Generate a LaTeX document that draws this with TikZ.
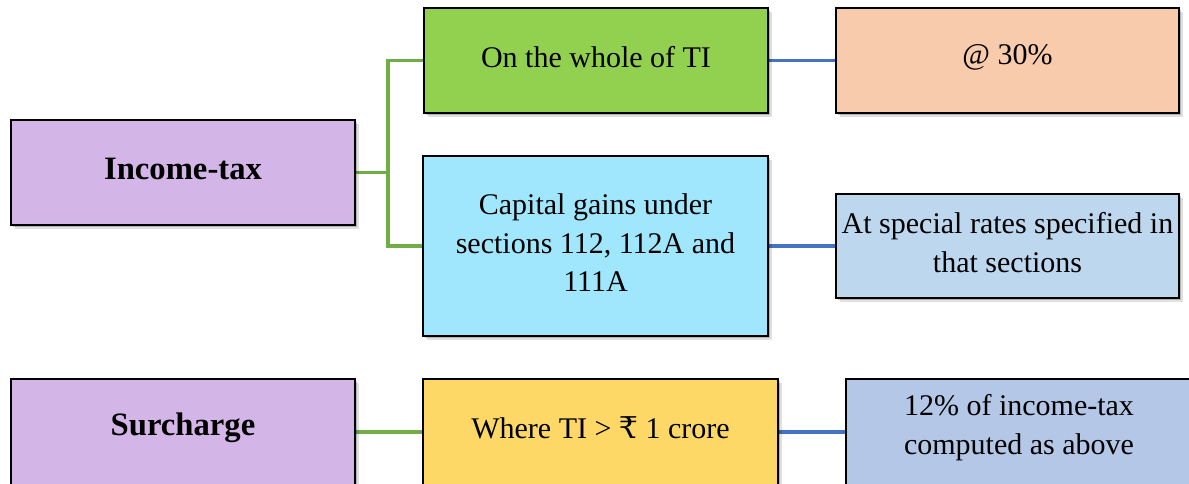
\documentclass[tikz,border=0pt]{standalone}
\usepackage{fontspec}
\setmainfont{Liberation Serif}
\newfontfamily\rupeefont{DejaVu Serif}
\usetikzlibrary{shadows,backgrounds}
\definecolor{cpurple}{HTML}{D3B5E8}
\definecolor{cgreen}{HTML}{92D050}
\definecolor{corange}{HTML}{F8CBAD}
\definecolor{ccyan}{HTML}{A0E6FD}
\definecolor{clblue}{HTML}{BDD7EE}
\definecolor{cyellow}{HTML}{FDD866}
\definecolor{cblue}{HTML}{B4C7E7}
\definecolor{lgreen}{HTML}{70AD47}
\definecolor{lblue}{HTML}{4472C4}
\tikzset{
  box/.style={draw=black, line width=1.5pt, inner sep=0pt,
    general shadow={fill=black, opacity=0.12, shadow xshift=3pt, shadow yshift=-3pt},
    general shadow={fill=black, opacity=0.2, shadow xshift=1.8pt, shadow yshift=-1.8pt}},
  txt/.style={align=center, inner sep=0pt, font=\fontsize{22.5}{29}\selectfont},
  head/.style={inner sep=0pt, font=\fontsize{24.5}{29}\selectfont\bfseries},
  gline/.style={draw=lgreen, line width=2.4pt},
  bline/.style={draw=lblue, line width=2.4pt},
}
\begin{document}
\begin{tikzpicture}[x=0.75pt,y=-0.75pt]
\useasboundingbox (0,0) rectangle (1189,483);
\begin{scope}
\clip (0,0) rectangle (1189,483);
\node[box, fill=cpurple, minimum width=258pt, minimum height=78.75pt] (A) at (183,172.5) {};
\node[head] (At) at ([yshift=2.5pt]A.center) {Income-tax};
\node[box, fill=cgreen, minimum width=258pt, minimum height=78.75pt] (B) at (596,60.5) {};
\node[txt] (Bt) at ([yshift=2.5pt]B.center) {On the whole of TI};
\node[box, fill=corange, minimum width=257.25pt, minimum height=78.75pt] (C) at (1007.5,60.5) {};
\node[txt] (Ct) at ([yshift=2.5pt]C.center) {@ 30\%};
\node[box, fill=ccyan, minimum width=258.75pt, minimum height=135pt] (D) at (595.5,246) {};
\node[txt] (Dt) at ([yshift=2.5pt]D.center) {Capital gains under\\sections 112, 112A and\\111A};
\node[box, fill=clblue, minimum width=257.25pt, minimum height=78pt] (E) at (1007.5,246) {};
\node[txt] (Et) at ([yshift=2.5pt]E.center) {At special rates specified in\\that sections};
\node[box, fill=cpurple, minimum width=258pt, minimum height=79.5pt] (F) at (183,432) {};
\node[head] (Ft) at ([yshift=3.5pt]F.center) {Surcharge};
\node[box, fill=cyellow, minimum width=266.25pt, minimum height=79.5pt] (G) at (600.5,432) {};
\node[txt] (Gt) at ([yshift=3.5pt]G.center) {Where TI > {\rupeefont ₹} 1 crore};
\node[box, fill=cblue, minimum width=259.5pt, minimum height=79.5pt] (H) at (1019,432) {};
\node[txt] (Ht) at ([yshift=3.5pt]H.center) {12\% of income-tax\\computed as above};
\coordinate (j) at (388,172.5);
\end{scope}
\begin{pgfonlayer}{background}
\draw[gline] (A.east) -- (j);
\draw[gline] (B.west) -| (j) |- (D.west);
\draw[bline] (B.east) -- (C.west);
\draw[bline] (D.east) -- (E.west);
\draw[gline] (F.east) -- (G.west);
\draw[bline] (G.east) -- (H.west);
\end{pgfonlayer}
\end{tikzpicture}
\end{document}
